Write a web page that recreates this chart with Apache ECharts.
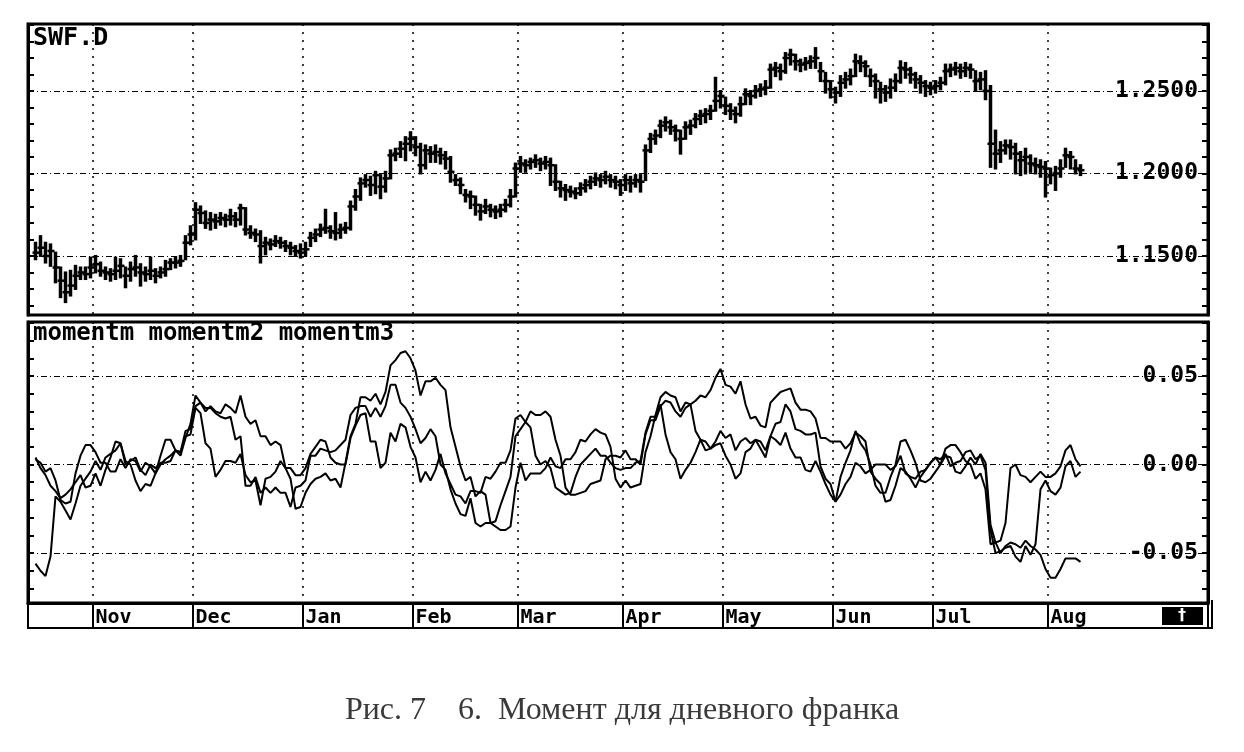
<!DOCTYPE html>
<html><head><meta charset="utf-8">
<script src="https://cdn.jsdelivr.net/npm/echarts@6/dist/echarts.min.js"></script>
<style>html,body{margin:0;padding:0;background:#fff}#c{width:1244px;height:752px}</style>
</head><body><div id="c"></div>
<script>
// ---- data ----
const monthNames = ['Nov','Dec','Jan','Feb','Mar','Apr','May','Jun','Jul','Aug'];
const monthStarts = [13,33,55,77,98,119,139,161,181,204];
const categoryCount = 236;

const priceClose = [
1.152,1.155,1.150,1.153,1.143,1.135,1.128,1.132,1.138,1.140,
1.139,1.143,1.145,1.141,1.140,1.139,1.141,1.144,1.138,1.142,
1.143,1.140,1.139,1.141,1.138,1.140,1.142,1.146,1.146,1.147,
1.158,1.163,1.178,1.176,1.170,1.172,1.171,1.173,1.172,1.174,
1.172,1.179,1.166,1.164,1.163,1.156,1.158,1.157,1.159,1.158,
1.156,1.155,1.153,1.152,1.154,1.161,1.163,1.166,1.167,1.165,
1.164,1.166,1.167,1.180,1.186,1.194,1.196,1.193,1.199,1.192,
1.197,1.211,1.212,1.215,1.218,1.221,1.216,1.205,1.214,1.212,
1.213,1.211,1.209,1.201,1.196,1.193,1.187,1.186,1.181,1.177,
1.180,1.178,1.177,1.178,1.181,1.186,1.203,1.206,1.205,1.207,
1.208,1.206,1.207,1.205,1.195,1.191,1.190,1.189,1.188,1.191,
1.193,1.195,1.197,1.196,1.198,1.196,1.195,1.193,1.196,1.194,
1.196,1.195,1.214,1.221,1.223,1.229,1.231,1.228,1.226,1.221,
1.228,1.229,1.233,1.235,1.236,1.238,1.244,1.247,1.241,1.238,
1.236,1.242,1.248,1.247,1.250,1.251,1.252,1.263,1.264,1.262,
1.270,1.272,1.268,1.266,1.267,1.268,1.270,1.262,1.256,1.251,
1.249,1.255,1.257,1.259,1.268,1.267,1.265,1.259,1.256,1.251,
1.249,1.252,1.256,1.264,1.263,1.260,1.257,1.255,1.253,1.252,
1.253,1.255,1.262,1.263,1.264,1.262,1.264,1.263,1.256,1.257,
1.250,1.218,1.212,1.214,1.217,1.216,1.212,1.208,1.210,1.206,
1.205,1.204,1.203,1.199,1.200,1.203,1.211,1.210,1.203,1.202];

const priceHigh = [
1.158,1.162,1.158,1.157,1.152,1.143,1.140,1.141,1.144,1.143,
1.143,1.149,1.150,1.146,1.143,1.142,1.149,1.148,1.143,1.146,
1.150,1.145,1.143,1.149,1.142,1.143,1.147,1.148,1.149,1.150,
1.162,1.168,1.182,1.180,1.177,1.176,1.175,1.176,1.175,1.178,
1.176,1.181,1.179,1.168,1.166,1.165,1.161,1.160,1.162,1.161,
1.159,1.158,1.156,1.157,1.158,1.164,1.166,1.169,1.178,1.168,
1.176,1.169,1.170,1.183,1.190,1.197,1.199,1.198,1.201,1.199,
1.201,1.214,1.215,1.219,1.222,1.225,1.222,1.218,1.217,1.216,
1.217,1.215,1.213,1.210,1.199,1.197,1.190,1.189,1.186,1.181,
1.184,1.181,1.180,1.181,1.184,1.190,1.206,1.210,1.208,1.209,
1.211,1.209,1.210,1.209,1.205,1.195,1.193,1.192,1.191,1.194,
1.196,1.198,1.200,1.199,1.201,1.199,1.198,1.196,1.199,1.198,
1.199,1.199,1.217,1.224,1.226,1.232,1.234,1.232,1.229,1.226,
1.231,1.232,1.236,1.238,1.239,1.241,1.258,1.250,1.246,1.242,
1.240,1.246,1.251,1.250,1.253,1.254,1.256,1.266,1.267,1.266,
1.273,1.275,1.272,1.269,1.270,1.271,1.276,1.267,1.261,1.256,
1.252,1.259,1.261,1.263,1.272,1.271,1.268,1.263,1.260,1.255,
1.253,1.257,1.260,1.268,1.267,1.264,1.261,1.259,1.256,1.255,
1.256,1.258,1.266,1.266,1.267,1.266,1.267,1.266,1.262,1.261,
1.262,1.253,1.226,1.219,1.220,1.220,1.218,1.213,1.215,1.211,
1.209,1.208,1.207,1.203,1.204,1.208,1.215,1.213,1.208,1.205];

const priceLow = [
1.148,1.150,1.146,1.144,1.134,1.125,1.122,1.126,1.130,1.136,
1.136,1.137,1.140,1.138,1.136,1.135,1.136,1.137,1.131,1.135,
1.138,1.132,1.135,1.136,1.134,1.137,1.138,1.142,1.143,1.144,
1.148,1.157,1.160,1.170,1.167,1.166,1.167,1.169,1.168,1.169,
1.168,1.169,1.163,1.161,1.159,1.146,1.151,1.154,1.156,1.155,
1.153,1.151,1.150,1.149,1.150,1.156,1.159,1.162,1.164,1.161,
1.160,1.161,1.164,1.166,1.178,1.184,1.192,1.187,1.188,1.185,
1.189,1.197,1.208,1.210,1.208,1.214,1.211,1.200,1.203,1.207,
1.207,1.206,1.203,1.195,1.193,1.188,1.183,1.179,1.175,1.172,
1.176,1.174,1.173,1.174,1.177,1.180,1.186,1.201,1.201,1.203,
1.204,1.202,1.203,1.193,1.190,1.186,1.184,1.186,1.185,1.187,
1.189,1.191,1.193,1.192,1.194,1.192,1.191,1.187,1.190,1.189,
1.192,1.189,1.196,1.213,1.218,1.222,1.226,1.224,1.220,1.212,
1.221,1.224,1.228,1.230,1.231,1.233,1.238,1.240,1.236,1.233,
1.231,1.235,1.242,1.242,1.246,1.247,1.248,1.252,1.259,1.257,
1.261,1.266,1.263,1.262,1.263,1.264,1.264,1.256,1.249,1.246,
1.243,1.247,1.252,1.254,1.259,1.262,1.259,1.253,1.246,1.243,
1.244,1.246,1.250,1.255,1.258,1.255,1.252,1.249,1.247,1.248,
1.249,1.251,1.254,1.259,1.260,1.258,1.259,1.258,1.250,1.251,
1.245,1.204,1.203,1.207,1.212,1.209,1.200,1.199,1.200,1.201,
1.200,1.198,1.186,1.194,1.190,1.198,1.204,1.203,1.200,1.199];

const momentm = [
0.003,0.001,-0.004,-0.002,-0.009,-0.020,-0.022,-0.021,-0.005,0.005,
0.011,0.011,0.007,0.001,0.001,-0.004,-0.004,0.003,-0.002,0.003,
0.002,-0.004,0.001,-0.001,-0.005,0.000,0.003,0.005,0.008,0.007,
0.016,0.017,0.032,0.029,0.012,0.009,-0.007,-0.003,0.002,0.002,
0.001,0.006,-0.006,-0.010,-0.009,-0.023,-0.008,-0.007,-0.004,0.002,
-0.002,-0.002,-0.006,-0.006,-0.002,0.006,0.010,0.014,0.013,0.004,
0.001,0.000,0.000,0.015,0.022,0.028,0.029,0.013,0.013,-0.002,
0.001,0.018,0.013,0.023,0.021,0.010,0.004,-0.010,-0.004,-0.009,
-0.003,0.006,-0.005,-0.011,-0.017,-0.018,-0.022,-0.015,-0.015,-0.016,
-0.007,-0.008,-0.004,0.001,0.001,0.008,0.026,0.028,0.024,0.021,
0.005,0.000,0.002,-0.002,-0.013,-0.015,-0.017,-0.016,-0.007,0.000,
0.003,0.006,0.009,0.005,0.005,0.001,-0.002,-0.003,-0.002,-0.002,
0.001,0.002,0.018,0.027,0.027,0.034,0.017,0.007,0.003,-0.008,
-0.003,0.001,0.007,0.014,0.008,0.009,0.011,0.012,0.005,0.000,
-0.008,-0.005,0.007,0.009,0.014,0.009,0.004,0.016,0.014,0.011,
0.018,0.009,0.004,0.004,-0.003,-0.004,0.002,-0.004,-0.011,-0.017,
-0.021,-0.007,0.001,0.008,0.019,0.012,0.008,0.000,-0.012,-0.016,
-0.016,-0.007,0.000,0.013,0.014,0.008,0.001,-0.009,-0.010,-0.008,
-0.004,0.000,0.009,0.011,0.011,0.007,0.002,0.000,-0.008,-0.005,
-0.014,-0.045,-0.044,-0.043,-0.033,-0.002,0.000,-0.006,-0.007,-0.010,
-0.007,-0.004,-0.007,-0.007,-0.005,-0.001,0.008,0.011,0.003,-0.001];

const momentm2 = [
0.004,-0.002,-0.006,-0.012,-0.015,-0.019,-0.017,-0.014,-0.010,-0.006,
-0.013,-0.012,-0.005,-0.012,-0.003,0.004,0.013,0.012,0.000,0.002,
0.004,-0.003,-0.006,0.000,-0.002,0.001,0.001,0.002,0.008,0.005,
0.015,0.023,0.039,0.035,0.032,0.032,0.029,0.027,0.026,0.027,
0.014,0.016,-0.012,-0.012,-0.007,-0.016,-0.013,-0.016,-0.013,-0.016,
-0.016,-0.024,-0.013,-0.012,-0.009,0.005,0.005,0.009,0.008,0.007,
0.008,0.011,0.014,0.028,0.032,0.033,0.033,0.027,0.032,0.027,
0.033,0.045,0.045,0.035,0.032,0.027,0.020,0.012,0.015,0.020,
0.016,0.000,-0.003,-0.014,-0.022,-0.028,-0.029,-0.019,-0.033,-0.035,
-0.033,-0.033,-0.032,-0.023,-0.015,-0.007,0.016,0.020,0.024,0.030,
0.028,0.028,0.030,0.027,0.014,0.005,-0.013,-0.017,-0.017,-0.016,
-0.015,-0.011,-0.010,-0.009,0.003,0.005,0.005,0.004,0.008,0.003,
0.003,0.000,0.017,0.025,0.025,0.033,0.036,0.035,0.030,0.027,
0.032,0.034,0.019,0.014,0.013,0.009,0.013,0.019,0.015,0.017,
0.008,0.013,0.015,0.012,0.014,0.013,0.008,0.016,0.023,0.024,
0.034,0.030,0.020,0.019,0.017,0.017,0.018,-0.001,-0.008,-0.011,
-0.021,-0.017,-0.011,-0.007,0.001,-0.001,-0.005,-0.003,0.000,0.000,
0.000,-0.003,-0.001,0.005,-0.005,-0.007,-0.008,-0.004,-0.003,0.001,
0.004,0.003,0.006,-0.001,0.001,0.002,0.007,0.008,0.003,0.005,
-0.003,-0.037,-0.050,-0.049,-0.047,-0.046,-0.052,-0.055,-0.046,-0.051,
-0.045,-0.014,-0.009,-0.015,-0.017,-0.013,-0.001,0.002,-0.007,-0.004];

const momentm3 = [
-0.056,-0.060,-0.063,-0.052,-0.018,-0.021,-0.026,-0.031,-0.022,-0.012,
-0.008,-0.004,0.002,-0.003,0.004,0.006,0.008,0.012,0.002,0.000,
-0.009,-0.015,-0.011,-0.012,-0.005,0.005,0.014,0.014,0.008,0.007,
0.019,0.020,0.033,0.035,0.030,0.033,0.030,0.029,0.034,0.032,
0.029,0.039,0.027,0.023,0.025,0.016,0.016,0.011,0.013,0.011,
-0.002,-0.008,-0.025,-0.024,-0.016,-0.011,-0.008,-0.007,-0.005,-0.009,
-0.008,-0.013,0.001,0.016,0.023,0.038,0.038,0.036,0.040,0.034,
0.041,0.056,0.059,0.063,0.064,0.060,0.053,0.039,0.047,0.047,
0.049,0.045,0.042,0.021,0.010,-0.001,-0.009,-0.007,-0.018,-0.015,
-0.017,-0.033,-0.035,-0.037,-0.037,-0.035,-0.013,0.001,-0.009,-0.005,
-0.005,-0.005,-0.002,0.004,-0.001,-0.002,0.003,0.003,0.007,0.014,
0.013,0.017,0.020,0.018,0.017,0.010,-0.008,-0.013,-0.009,-0.013,
-0.012,-0.011,0.007,0.016,0.028,0.038,0.041,0.039,0.038,0.030,
0.035,0.034,0.036,0.039,0.038,0.042,0.049,0.054,0.045,0.044,
0.040,0.047,0.034,0.026,0.027,0.022,0.021,0.035,0.038,0.041,
0.042,0.043,0.035,0.031,0.031,0.030,0.026,0.015,0.015,0.013,
0.013,0.013,0.009,0.012,0.018,0.016,0.013,-0.004,-0.008,-0.011,
-0.021,-0.020,-0.012,-0.002,-0.004,-0.008,-0.013,-0.007,-0.003,0.001,
0.004,0.000,0.005,0.004,-0.004,-0.005,-0.001,0.004,0.000,0.006,
0.001,-0.034,-0.044,-0.050,-0.046,-0.044,-0.045,-0.047,-0.043,-0.046,
-0.048,-0.051,-0.059,-0.064,-0.064,-0.059,-0.053,-0.053,-0.053,-0.055];

const priceTicks = [1.12,1.13,1.14,1.15,1.16,1.17,1.18,1.19,1.20,1.21,1.22,1.23,1.24,1.25,1.26,1.27,1.28,1.29];
const priceLabels = [1.15,1.20,1.25];
const momTicks = [-0.07,-0.06,-0.05,-0.04,-0.03,-0.02,-0.01,0.00,0.01,0.02,0.03,0.04,0.05,0.06,0.07,0.08];
const momLabels = [-0.05,0.00,0.05];

// ---- build ----
const categories = [];
for (let i = 0; i < categoryCount; i++) categories.push('');
monthStarts.forEach((s, k) => { categories[s] = monthNames[k]; });
const isMonthStart = (i) => monthStarts.indexOf(i) >= 0;

const barData = priceClose.map((c, i) => [i + 1, priceHigh[i], priceLow[i], c]);
const lineData = (arr) => [null].concat(arr);

const MONO = "'DejaVu Sans Mono', monospace";
const gridLineStyle = { color: '#000', width: 1, type: [6, 3, 1, 3] };

const chart = echarts.init(document.getElementById('c'), null, { renderer: 'canvas' });

function yAx(grid, pos, min, max, ticks, labels, digits, showLabels) {
  return {
    type: 'value', gridIndex: grid, position: pos, min: min, max: max,
    axisLine: { show: true, lineStyle: { color: '#000', width: 3 } },
    axisTick: { show: true, inside: true, length: 6, customValues: ticks, lineStyle: { color: '#000', width: 2 } },
    axisLabel: showLabels ? {
      show: true, inside: true, margin: 10, customValues: labels,
      formatter: (v) => v.toFixed(digits),
      fontFamily: MONO, fontWeight: 'bold', fontSize: 23, color: '#000'
    } : { show: false },
    splitLine: { show: false }
  };
}

const option = {
  animation: false,
  backgroundColor: '#fff',
  grid: [
    { left: 28, right: 36, top: 24, height: 291, show: true, borderColor: '#000', borderWidth: 3, backgroundColor: 'transparent' },
    { left: 28, right: 36, top: 322, height: 281, show: true, borderColor: '#000', borderWidth: 3, backgroundColor: 'transparent' }
  ],
  xAxis: [
    {
      type: 'category', gridIndex: 0, data: categories, boundaryGap: true,
      axisLine: { show: false, onZero: false }, axisTick: { show: false }, axisLabel: { show: false },
      splitLine: { show: true, interval: (i) => isMonthStart(i), lineStyle: { color: '#000', width: 1.5, type: [2, 6] } }
    },
    {
      type: 'category', gridIndex: 1, data: categories, boundaryGap: true,
      axisLine: { show: true, onZero: false, lineStyle: { color: '#000', width: 3 } },
      axisTick: { show: true, interval: (i) => isMonthStart(i), length: 25, lineStyle: { color: '#000', width: 2 } },
      axisLabel: { show: true, interval: (i) => isMonthStart(i), align: 'left', margin: 5,
        fontFamily: MONO, fontWeight: 'bold', fontSize: 20, color: '#000' },
      splitLine: { show: true, interval: (i) => isMonthStart(i), lineStyle: { color: '#000', width: 1.5, type: [2, 6] } }
    }
  ],
  yAxis: [
    yAx(0, 'right', 1.1142, 1.2906, priceTicks, priceLabels, 4, true),
    yAx(0, 'left', 1.1142, 1.2906, priceTicks, priceLabels, 4, false),
    yAx(1, 'right', -0.0782, 0.0805, momTicks, momLabels, 2, true),
    yAx(1, 'left', -0.0782, 0.0805, momTicks, momLabels, 2, false)
  ],
  series: [
    {
      name: 'grid-top', type: 'line', xAxisIndex: 0, yAxisIndex: 0, data: [], z: 1, silent: true,
      markLine: { silent: true, symbol: 'none', label: { show: false }, lineStyle: gridLineStyle,
        data: priceLabels.map(v => ({ yAxis: v })) }
    },
    {
      name: 'SWF.D', type: 'custom', xAxisIndex: 0, yAxisIndex: 0, data: barData, z: 3,
      renderItem: function (params, api) {
        const hi = api.coord([api.value(0), api.value(1)]);
        const lo = api.coord([api.value(0), api.value(2)]);
        const cl = api.coord([api.value(0), api.value(3)]);
        return { type: 'group', children: [
          { type: 'line', shape: { x1: hi[0], y1: hi[1] - 1, x2: lo[0], y2: lo[1] + 1 }, style: { stroke: '#000', lineWidth: 3.5 } },
          { type: 'line', shape: { x1: cl[0] - 3, y1: cl[1], x2: cl[0] + 4, y2: cl[1] }, style: { stroke: '#000', lineWidth: 2.5 } }
        ] };
      }
    },
    {
      name: 'momentm', type: 'line', xAxisIndex: 1, yAxisIndex: 2, data: lineData(momentm), z: 3,
      symbol: 'none', lineStyle: { color: '#000', width: 2 },
      markLine: { silent: true, symbol: 'none', label: { show: false }, lineStyle: gridLineStyle,
        data: momLabels.map(v => ({ yAxis: v })) }
    },
    {
      name: 'momentm2', type: 'line', xAxisIndex: 1, yAxisIndex: 2, data: lineData(momentm2), z: 3,
      symbol: 'none', lineStyle: { color: '#000', width: 2 }
    },
    {
      name: 'momentm3', type: 'line', xAxisIndex: 1, yAxisIndex: 2, data: lineData(momentm3), z: 3,
      symbol: 'none', lineStyle: { color: '#000', width: 2 }
    }
  ],
  graphic: [
    { type: 'text', left: 33, top: 26, style: { text: 'SWF.D', font: "bold 25px 'DejaVu Sans Mono'", fill: '#000' } },
    { type: 'text', left: 33, top: 322, style: { text: 'momentm momentm2 momentm3', font: "bold 24px 'DejaVu Sans Mono'", fill: '#000' } },
    { type: 'polyline', shape: { points: [[28, 603], [28, 628], [1212, 628], [1212, 600]] }, style: { stroke: '#000', lineWidth: 2, fill: null } },
    { type: 'rect', shape: { x: 1162, y: 607, width: 41, height: 18 }, style: { fill: '#000' } },
    { type: 'text', x: 1182, y: 616, style: { text: '†', font: "bold 16px 'DejaVu Sans'", fill: '#fff', align: 'center', verticalAlign: 'middle' } },
    { type: 'text', left: 'center', top: 695, style: { text: 'Рис. 7    6.  Момент для дневного франка', font: "32px 'Liberation Serif'", fill: '#3a3a3a' } }
  ]
};
chart.setOption(option);
</script>
</body></html>
